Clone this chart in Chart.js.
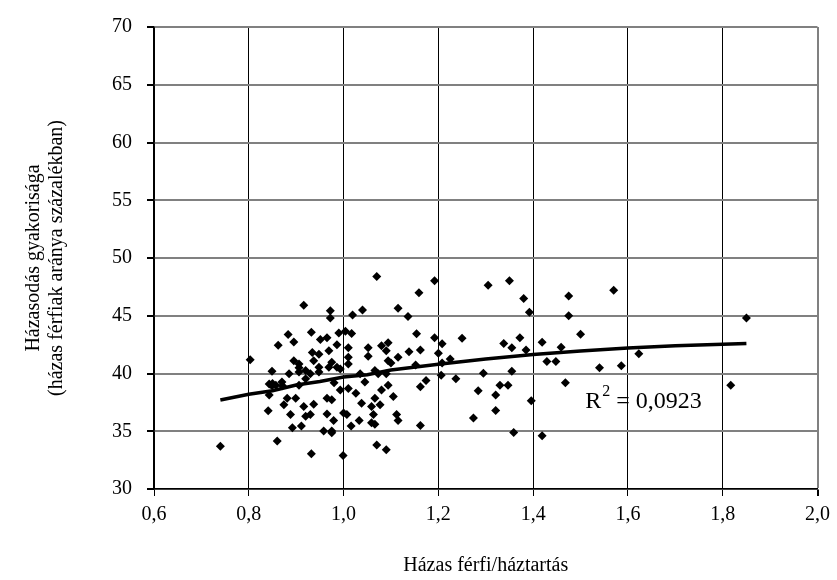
<!DOCTYPE html>
<html>
<head>
<meta charset="utf-8">
<script src="https://cdn.jsdelivr.net/npm/chart.js@4.4.1/dist/chart.umd.min.js"></script>
<style>
  html, body { margin: 0; padding: 0; background: #fff; }
  #wrap { width: 837px; height: 580px; position: relative; }
</style>
</head>
<body>
<div id="wrap"><canvas id="chart"></canvas></div>
<script>
// ============================================
// Házas férfi / háztartás vs házasodás gyakorisága
// ============================================

// scatter points: x = házas férfi/háztartás
const pointX = [
    0.74, 0.803, 0.849, 0.86, 0.932, 0.999, 1.07, 1.09,
    0.916, 0.972, 0.972, 0.883, 0.895, 0.862, 0.932, 0.951, 0.965, 0.934, 0.948, 0.969,
    0.895, 0.906, 0.937, 0.885, 0.906, 0.92, 0.93, 0.948, 0.969, 0.85, 0.87,
    0.986, 1.01, 1.01, 1.052, 1.052, 1.08, 1.09, 1.115, 0.948, 0.993,
    0.906, 0.92, 1.045, 1.073, 1.09,
    1.019, 1.04, 1.115, 1.136, 0.99, 1.004, 1.017, 1.094, 1.094, 0.975, 1.01, 0.986, 1.035, 1.066,
    0.849, 0.871, 0.843, 0.881, 0.874, 0.899, 0.841, 0.888, 0.916, 0.937, 0.92, 0.93, 0.892, 0.911,
    0.965, 0.965, 0.958, 0.975,
    0.993, 1.01, 0.975, 1.038, 1.066, 1.08, 1.094, 1.105, 1.059, 1.077, 1.063, 1.112, 1.115,
    0.979, 1.0, 1.007, 1.033, 1.059, 1.066, 1.016, 0.975, 1.138,
    1.159, 1.192, 1.305, 1.35, 1.38, 1.392, 1.475, 1.475, 1.154, 1.162, 1.152, 1.192, 1.208,
    1.2, 1.208, 1.225, 1.25, 1.206, 1.174, 1.162, 1.237, 1.295, 1.284, 1.274, 1.162, 1.321,
    1.321, 1.33, 1.347, 1.355, 1.338, 1.355, 1.372, 1.385, 1.359, 1.396, 1.419, 1.419, 1.429,
    1.448, 1.459, 1.468,
    1.07, 1.5, 1.57, 1.54, 1.586, 1.623, 1.817, 1.85,
    0.843, 0.906, 0.857, 0.98, 1.026, 1.1
];

// y = házas férfiak aránya (%)
const pointY = [
    33.7, 41.2, 40.2, 34.15, 33.05, 32.9, 33.8, 33.4,
    45.9, 45.44, 44.8, 43.37, 42.73, 42.44, 43.57, 42.95, 43.1, 41.82, 41.67, 41.96,
    41.1, 40.82, 41.1, 39.98, 40.12, 40.26, 39.98, 40.12, 40.54, 39.13, 39.27,
    42.5, 42.24, 41.4, 42.24, 41.5, 42.4, 41.96, 41.4, 40.54, 40.4,
    38.99, 39.55, 39.27, 39.98, 39.98,
    45.07, 45.5, 45.64, 44.93, 43.5, 43.66, 43.46, 42.67, 41.1, 40.97, 40.82, 40.54, 39.98, 40.26,
    38.93, 38.93, 38.14, 37.85, 37.29, 37.85, 36.78, 36.44, 37.15, 37.34, 36.3, 36.44, 35.3, 35.45,
    37.85, 36.5, 35.03, 35.03,
    38.57, 38.7, 37.72, 37.43, 37.85, 38.57, 38.99, 38.0, 37.15, 37.29, 36.44, 36.44, 35.93,
    35.93, 36.58, 36.44, 35.93, 35.73, 35.6, 35.45, 34.88, 41.88,
    47.0, 48.04, 47.65, 48.04, 46.5, 45.3, 46.7, 45.0, 43.45, 42.04, 40.74, 43.1, 42.58,
    41.76, 40.9, 41.25, 43.06, 39.84, 39.4, 38.85, 39.55, 40.03, 38.5, 36.15, 35.5, 38.14,
    36.8, 38.99, 38.99, 40.2, 42.6, 42.24, 43.1, 42.04, 34.9, 37.63, 34.6, 42.7, 41.03,
    41.03, 42.27, 39.19,
    48.4, 43.4, 47.2, 40.5, 40.68, 41.7, 38.99, 44.8,
    39.1, 40.5, 38.99, 39.2, 38.3, 40.9
];

// trendline
const trendX = [0.74, 0.8, 0.85, 0.9, 0.95, 1.0, 1.05, 1.1, 1.2, 1.3, 1.4, 1.5, 1.6, 1.7, 1.85];
const trendY = [37.7, 38.2, 38.5, 39.0, 39.3, 39.7, 39.9, 40.3, 40.8, 41.25, 41.65, 41.95, 42.2, 42.4, 42.6];

const xTicks = [0.6, 0.8, 1.0, 1.2, 1.4, 1.6, 1.8, 2.0];
const yTicks = [30, 35, 40, 45, 50, 55, 60, 65, 70];

const r2Label = { base: 'R', sup: '2', rest: ' = 0,0923', x: 1.51, y: 37.6 };

const FONT = "'Liberation Serif', 'Times New Roman', serif";

const scatterData = pointX.map((x, i) => ({ x: x, y: pointY[i] }));
const trendData = trendX.map((x, i) => ({ x: x, y: trendY[i] }));

// draws the R² note inside the plot
const r2Plugin = {
    id: 'r2Note',
    afterDatasetsDraw(chart) {
        const ctx = chart.ctx;
        const px = chart.scales.x.getPixelForValue(r2Label.x);
        const py = chart.scales.y.getPixelForValue(r2Label.y);
        ctx.save();
        ctx.fillStyle = '#000';
        ctx.textBaseline = 'middle';
        ctx.textAlign = 'left';
        ctx.font = `24px ${FONT}`;
        ctx.fillText(r2Label.base, px, py);
        let w = ctx.measureText(r2Label.base).width;
        ctx.font = `16px ${FONT}`;
        ctx.fillText(r2Label.sup, px + w + 1, py - 9);
        w += ctx.measureText(r2Label.sup).width + 1;
        ctx.font = `24px ${FONT}`;
        ctx.fillText(r2Label.rest, px + w, py);
        ctx.restore();
    }
};

new Chart(document.getElementById('chart'), {
    type: 'scatter',
    data: {
        datasets: [
            {
                label: 'adat',
                data: scatterData,
                pointStyle: 'rectRot',
                pointRadius: 4.5,
                pointBackgroundColor: '#000',
                pointBorderColor: '#000',
                pointBorderWidth: 0,
                order: 2
            },
            {
                label: 'trend',
                type: 'line',
                data: trendData,
                borderColor: '#000',
                borderWidth: 3.5,
                pointRadius: 0,
                tension: 0,
                fill: false,
                order: 1
            }
        ]
    },
    options: {
        responsive: true,
        maintainAspectRatio: false,
        animation: false,
        layout: { padding: { top: 18, right: 15, left: 0, bottom: 0 } },
        plugins: {
            legend: { display: false },
            tooltip: { enabled: false }
        },
        scales: {
            x: {
                type: 'linear',
                min: 0.6,
                max: 2.0,
                afterBuildTicks: s => { s.ticks = xTicks.map(v => ({ value: v })); },
                afterFit: s => { s.height = 91; },
                ticks: {
                    color: '#000',
                    padding: 7,
                    maxRotation: 0,
                    font: { family: FONT, size: 20 },
                    callback: v => v.toFixed(1).replace('.', ',')
                },
                grid: {
                    color: ctx => (ctx.tick && ctx.tick.value === 2.0) ? '#808080' : '#000',
                    lineWidth: ctx => (ctx.tick && ctx.tick.value === 2.0) ? 2 : 1,
                    tickColor: '#000',
                    tickLength: 7
                },
                border: { color: '#000', width: 1.5 },
                title: {
                    display: true,
                    text: 'Házas férfi/háztartás',
                    color: '#000',
                    font: { family: FONT, size: 20 },
                    padding: { top: 0, bottom: 2 }
                }
            },
            y: {
                type: 'linear',
                min: 30,
                max: 70,
                afterBuildTicks: s => { s.ticks = yTicks.map(v => ({ value: v })); },
                afterFit: s => { s.width = 154; },
                ticks: {
                    color: '#000',
                    padding: 15,
                    font: { family: FONT, size: 20 }
                },
                grid: {
                    color: '#808080',
                    lineWidth: 2,
                    tickColor: '#000',
                    tickLength: 7
                },
                border: { color: '#000', width: 1.5 },
                title: {
                    display: true,
                    text: ['Házasodás gyakorisága', '(házas férfiak aránya százalékban)'],
                    color: '#000',
                    font: { family: FONT, size: 20, lineHeight: 1.15 },
                    padding: { top: 22, bottom: 0 }
                }
            }
        }
    },
    plugins: [r2Plugin]
});
</script>
</body>
</html>
